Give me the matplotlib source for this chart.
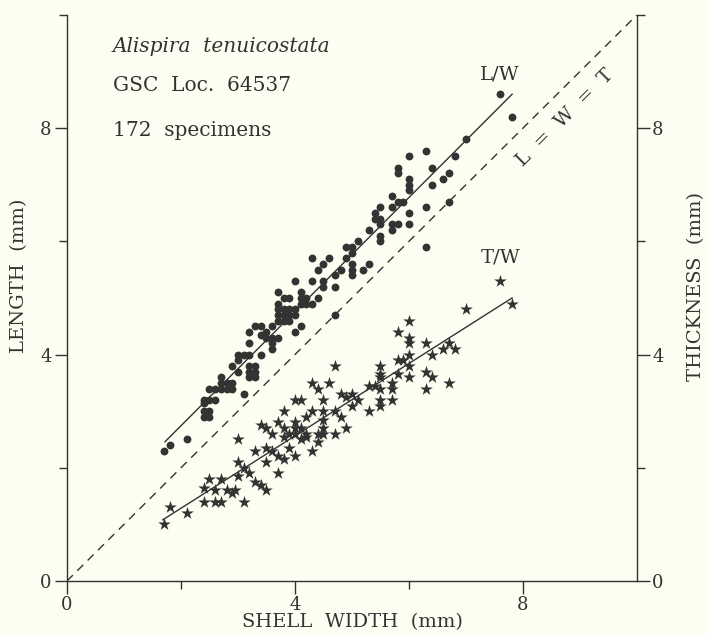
import matplotlib
matplotlib.use("Agg")
import matplotlib.pyplot as plt

# L/W: shell width vs length (mm)
lw_width = [7.6, 7.8, 7.0, 6.8, 6.3, 6.0, 6.4, 6.7, 6.6, 6.4,
            5.8, 5.8, 6.0, 6.0, 6.0, 6.7, 6.3, 5.7, 5.7, 5.8, 5.9,
            5.5, 5.5, 5.4, 5.4, 6.0, 6.0, 5.7, 5.8, 5.7, 5.5, 5.5, 5.5, 5.3, 6.3,
            5.1, 4.9, 5.0, 5.0, 5.0, 5.0, 5.0, 5.3, 5.2, 4.8, 4.9, 4.6, 4.3, 4.5, 4.4,
            4.7, 4.7, 4.3, 4.5, 4.0, 4.5, 4.4, 3.7, 3.8, 3.9, 3.7,
            4.1, 4.2, 4.3, 4.1, 4.1, 4.2, 4.7,
            3.7, 3.8, 3.9, 4.0, 3.7, 3.8, 3.9, 4.0, 3.7, 3.8, 3.9,
            3.3, 3.4, 3.5, 3.6, 3.5, 3.6, 4.1, 4.0, 3.7, 3.6,
            3.2, 3.2, 3.4, 3.0, 3.1, 3.2, 3.4, 3.6, 3.0, 2.9, 3.2, 3.3, 3.2, 3.3,
            3.2, 3.3, 3.0, 2.7, 2.7, 2.8, 2.9, 2.5, 2.6, 2.7, 2.8, 2.9, 3.1,
            2.4, 2.4, 2.5, 2.6, 2.4, 2.4, 2.5, 2.5, 2.1, 1.8, 1.7]
lw_length = [8.6, 8.2, 7.8, 7.5, 7.6, 7.5, 7.3, 7.2, 7.1, 7.0,
             7.3, 7.2, 7.1, 7.0, 6.9, 6.7, 6.6, 6.8, 6.6, 6.7, 6.7,
             6.6, 6.4, 6.5, 6.4, 6.5, 6.3, 6.3, 6.3, 6.2, 6.3, 6.1, 6.0, 6.2, 5.9,
             6.0, 5.9, 5.9, 5.8, 5.6, 5.5, 5.4, 5.6, 5.5, 5.5, 5.7, 5.7, 5.7, 5.6, 5.5,
             5.4, 5.2, 5.3, 5.3, 5.3, 5.2, 5.0, 5.1, 5.0, 5.0, 4.9,
             5.1, 5.0, 4.9, 4.9, 5.0, 4.9, 4.7,
             4.8, 4.8, 4.8, 4.8, 4.7, 4.7, 4.7, 4.7, 4.6, 4.6, 4.6,
             4.5, 4.5, 4.4, 4.3, 4.3, 4.5, 4.5, 4.4, 4.3, 4.2,
             4.4, 4.2, 4.35, 4.0, 4.0, 4.0, 4.0, 4.1, 3.9, 3.8, 3.8, 3.8, 3.7, 3.7,
             3.6, 3.6, 3.7, 3.6, 3.5, 3.5, 3.5, 3.4, 3.4, 3.4, 3.4, 3.4, 3.3,
             3.2, 3.15, 3.2, 3.2, 3.0, 2.9, 3.0, 2.9, 2.5, 2.4, 2.3]

# T/W: shell width vs thickness (mm)
tw_width = [7.6, 7.8, 7.0, 6.3, 6.4, 6.7, 6.6, 6.8, 6.3, 6.4,
            6.0, 5.8, 6.0, 6.0, 6.0, 5.8, 5.9, 6.0, 5.5, 4.7, 6.0, 5.5, 5.5, 5.8,
            6.7, 6.3, 5.7, 5.7, 5.3, 5.4, 5.5,
            4.3, 4.4, 4.6, 5.5, 5.5, 5.7, 5.3, 4.0, 4.1, 4.5, 4.8, 4.9, 5.0, 5.1,
            5.0, 4.3, 4.5, 4.5, 4.5, 4.5, 4.7, 4.8, 4.2, 4.9, 4.7, 4.4, 4.0, 4.1,
            4.0, 4.1, 4.4, 4.3,
            3.8, 3.4, 3.5, 3.6, 3.7, 3.8, 3.9, 3.8, 4.0, 4.2, 4.2, 3.0, 3.3, 3.5,
            3.6, 3.7, 3.8, 3.9, 4.0, 3.0, 3.1, 3.2, 3.0, 3.5, 3.7, 3.3, 3.4, 3.5,
            2.5, 2.7, 2.4, 2.6, 2.8, 2.9, 2.4, 2.6, 2.7, 3.1, 2.95, 1.8, 2.1, 1.7]
tw_thick = [5.3, 4.9, 4.8, 4.2, 4.0, 4.2, 4.1, 4.1, 3.7, 3.6,
            4.6, 4.4, 4.3, 4.2, 4.0, 3.9, 3.9, 3.8, 3.8, 3.8, 3.6, 3.65, 3.6, 3.65,
            3.5, 3.4, 3.5, 3.4, 3.45, 3.45, 3.4,
            3.5, 3.4, 3.5, 3.2, 3.1, 3.2, 3.0, 3.2, 3.2, 3.2, 3.3, 3.25, 3.3, 3.2,
            3.1, 3.0, 3.0, 2.85, 2.7, 2.6, 3.0, 2.9, 2.9, 2.7, 2.6, 2.6, 2.8, 2.7,
            2.6, 2.5, 2.45, 2.3,
            3.0, 2.75, 2.7, 2.6, 2.8, 2.7, 2.6, 2.55, 2.7, 2.6, 2.55, 2.5, 2.3, 2.35,
            2.3, 2.2, 2.15, 2.35, 2.2, 2.1, 2.0, 1.9, 1.85, 2.1, 1.9, 1.75, 1.7, 1.6,
            1.8, 1.8, 1.65, 1.6, 1.6, 1.55, 1.4, 1.4, 1.4, 1.4, 1.6, 1.3, 1.2, 1.0]

# fitted lines (end points)
lw_fit_x = [1.72, 7.81]
lw_fit_y = [2.46, 8.60]
tw_fit_x = [1.68, 7.81]
tw_fit_y = [1.08, 5.00]

BG = "#fefdf1"
INK = "#333333"
plt.rcParams["font.family"] = "DejaVu Serif"

fig = plt.figure(figsize=(7.08, 6.36), dpi=100, facecolor=BG)
ax = fig.add_axes([0.0946, 0.0865, 0.805, 0.89])
ax.set_facecolor(BG)

ax.plot([0, 10], [0, 10], ls=(0, (6, 4.5)), lw=1.0, c=INK)
ax.plot(lw_fit_x, lw_fit_y, lw=1.0, c=INK)
ax.plot(tw_fit_x, tw_fit_y, lw=1.0, c=INK)
ax.scatter(lw_width, lw_length, s=32, c=INK, marker="o", lw=0, zorder=3)
ax.scatter(tw_width, tw_thick, s=90, c=INK, marker="*", lw=0, zorder=3)

ax.set_xlim(0, 10)
ax.set_ylim(0, 10)
ax.spines["top"].set_visible(False)
for s in ("left", "right", "bottom"):
    ax.spines[s].set_linewidth(1.0)
    ax.spines[s].set_color(INK)

ax.set_xticks([0, 4, 8])
ax.set_xticks([2, 6], minor=True)
ax.set_yticks([0, 4, 8])
ax.set_yticks([2, 6, 10], minor=True)
ax.tick_params(which="both", direction="out", colors=INK, labelsize=13,
               left=True, right=True, labelleft=True, labelright=True)
ax.tick_params(which="major", length=9, width=1.0, pad=2)
ax.tick_params(which="minor", length=6, width=1.0)

ax.set_xlabel("SHELL  WIDTH  (mm)", fontsize=14, color=INK)
ax.xaxis.set_label_coords(0.5, -0.056)
ax.set_ylabel("LENGTH  (mm)", fontsize=14, color=INK)
ax.yaxis.set_label_coords(-0.068, 0.54)
ax.text(1.103, 0.52, "THICKNESS  (mm)", transform=ax.transAxes, rotation=90,
        ha="center", va="center", fontsize=14, color=INK)

ax.text(0.8, 9.45, "Alispira  tenuicostata", fontsize=14.5, style="italic",
        color=INK, va="center")
ax.text(0.8, 8.75, "GSC  Loc.  64537", fontsize=14.5, color=INK, va="center")
ax.text(0.8, 7.95, "172  specimens", fontsize=14.5, color=INK, va="center")
ax.text(7.6, 8.95, "L/W", fontsize=14, color=INK, ha="center", va="center")
ax.text(7.6, 5.72, "T/W", fontsize=14, color=INK, ha="center", va="center")
ax.text(8.74, 8.18, "L  =  W  =  T", fontsize=14, color=INK, ha="center",
        va="center", rotation=45)

fig.savefig("out.png", dpi=100, facecolor=BG)
